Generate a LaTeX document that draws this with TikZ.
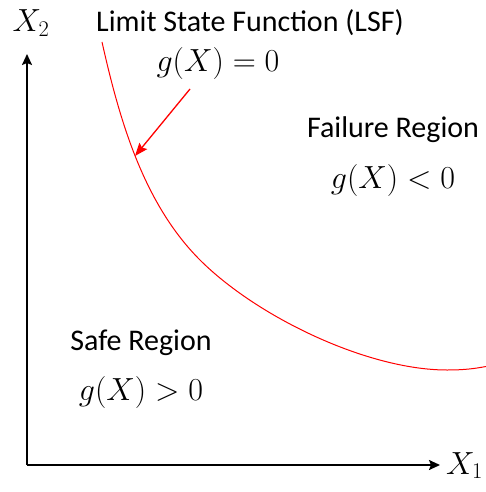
\RequirePackage{fix-cm}
\documentclass[tikz,border=0pt]{standalone}
\usepackage{fontspec}
\setmainfont{Carlito}
\usetikzlibrary{arrows.meta}
\begin{document}
\begin{tikzpicture}[x=1pt,y=-1pt,
  lbl/.style={inner sep=0pt,anchor=base,font=\fontsize{30}{34}\selectfont},
  mth/.style={inner sep=0pt,anchor=base,font=\fontsize{32}{36}\selectfont},
  axis/.style={line width=1.8pt,-{Stealth[length=11pt,width=10pt,inset=2pt]}},
  lsf/.style={red,line width=1pt},
  ptr/.style={red,line width=1.3pt,-{Stealth[length=13pt,width=10pt,inset=2pt]}}]
\useasboundingbox (0,0) rectangle (485,492);
\coordinate (O) at (27,465);
\coordinate (xend) at (440,465);
\coordinate (yend) at (27,54);
\draw[axis] (O) -- (xend);
\draw[axis] (O) -- (yend);
\node[mth] (x2) at (31,32) {$X_2$};
\node[mth,anchor=base west] (x1) at (446,474) {$X_1$};
\coordinate (c0) at (102,42);
\coordinate (c1) at (200,260);
\coordinate (c2) at (447,370);
\coordinate (c3) at (486,366.5);
\draw[lsf] (c0) .. controls (119.5,120) and (143.4,203.4) .. (c1)
  .. controls (256.6,316.6) and (367,370) .. (c2)
  .. controls (465,370) and (475,368.5) .. (c3);
\node[lbl] (lsft) at (250,32) {Limit State Function (LSF)};
\node[mth] (g0) at (218,72) {$g(X)=0$};
\node[lbl] (fail) at (393,137) {Failure Region};
\node[mth] (gneg) at (393,188) {$g(X)<0$};
\node[lbl] (safe) at (141,350) {Safe Region};
\node[mth] (gpos) at (141,400) {$g(X)>0$};
\coordinate (ps) at (190,89);
\coordinate (pe) at (135,156);
\draw[ptr] (ps) -- (pe);
\end{tikzpicture}
\end{document}
